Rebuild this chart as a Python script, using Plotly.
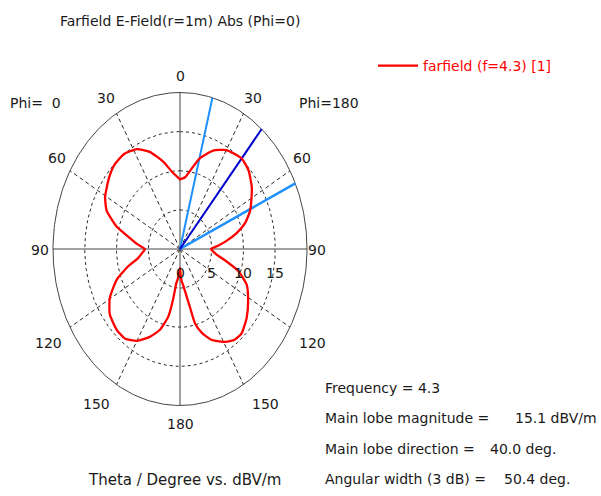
import numpy as np
import plotly.graph_objects as go

# Farfield E-field cut, |E| in dBV/m versus theta (deg)
# Phi=180 half (drawn on the right)
theta_phi180 = [0, 5, 10, 15, 22.5, 30, 40, 47, 55, 60, 66, 72, 77, 82.5, 86, 90,
                94, 97, 103, 107, 113.5, 122, 130, 138, 144, 150, 157, 162, 166,
                168, 171.5, 174, 176.5, 178.5, 180]
e_phi180 = [8.9, 9.2, 10.4, 12.0, 13.6, 14.6, 15.1, 14.75, 13.8, 13.0, 12.1, 10.8, 9.2, 7.2, 6.0, 4.9,
            5.3, 5.8, 7.8, 9.6, 11.45, 12.65, 13.7, 14.5, 14.4, 13.7, 12.6, 11.3, 9.8,
            7.7, 5.5, 4.6, 4.1, 3.2, 2.4]
# Phi=0 half (drawn on the left)
theta_phi0 = [0, 7.5, 13, 21, 28, 36, 44, 51, 60.5, 67, 74, 80, 85, 90, 95, 100, 105,
              111.5, 119.5, 127, 136, 143, 150, 157, 163, 168, 170.5, 172.5, 175, 177.5, 180]
e_phi0 = [8.9, 10.0, 11.4, 13.3, 14.45, 15.0, 14.9, 14.4, 13.55, 12.55, 10.4, 8.0, 6.7, 5.5,
          6.0, 6.7, 8.4, 10.7, 12.7, 13.85, 14.35, 14.35, 13.55, 12.2, 10.8, 8.8, 6.4, 4.4,
          3.8, 3.1, 2.4]

frequency = 4.3
main_lobe_mag = 15.1      # dBV/m
main_lobe_dir = 40.0      # deg
angular_width = 50.4      # deg (3 dB)

radial_ticks = [0, 5, 10, 15]
r_min, r_max = 0, 20
angle_ticks = [0, 30, 60, 90, 120, 150, 180]

W, H = 601, 496
# plot frame (pixels): centre and radii of the polar grid
CX, CY, RX, RY = 180, 249, 127, 156.5
sx = (r_max - r_min) / RX     # dB per pixel horizontally
sy = (r_max - r_min) / RY     # dB per pixel vertically
x_range = [(0 - CX) * sx, (W - CX) * sx]
y_range = [(CY - H) * sy, CY * sy]


def to_xy(theta_deg, value, side):
    t = np.radians(np.asarray(theta_deg, dtype=float))
    r = np.asarray(value, dtype=float) - r_min
    return side * r * np.sin(t), r * np.cos(t)


def px(x, y):
    return x / W, 1 - y / H


FONT = "'DejaVu Sans', Verdana, sans-serif"
GRID = "#2a2a2a"

fig = go.Figure()

# dashed rings
phi = np.linspace(0, 2 * np.pi, 361)
for rv in radial_ticks[1:]:
    r = rv - r_min
    fig.add_trace(go.Scatter(x=r * np.sin(phi), y=r * np.cos(phi), mode="lines",
                             line=dict(color=GRID, width=1, dash="3px,3px"),
                             hoverinfo="skip", showlegend=False))
# outer ring
R = r_max - r_min
fig.add_trace(go.Scatter(x=R * np.sin(phi), y=R * np.cos(phi), mode="lines",
                         line=dict(color="#444444", width=1),
                         hoverinfo="skip", showlegend=False))
# dashed spokes
for a in angle_ticks:
    if a in (0, 90, 180):
        continue
    for side in (-1, 1):
        xs, ys = to_xy([a, a], [r_min, r_max], side)
        fig.add_trace(go.Scatter(x=xs, y=ys, mode="lines",
                                 line=dict(color=GRID, width=1, dash="4px,3px"),
                                 hoverinfo="skip", showlegend=False))
# solid axes
fig.add_trace(go.Scatter(x=[-R, R], y=[0, 0], mode="lines",
                         line=dict(color="#444444", width=1), hoverinfo="skip", showlegend=False))
fig.add_trace(go.Scatter(x=[0, 0], y=[-R, R], mode="lines",
                         line=dict(color="#444444", width=1), hoverinfo="skip", showlegend=False))

# 3 dB beam-width limits and main lobe direction
for a, col, w in [(main_lobe_dir - angular_width / 2, "#1e90ff", 2),
                  (main_lobe_dir + angular_width / 2, "#1e90ff", 2.5),
                  (main_lobe_dir, "#0000cc", 2)]:
    xs, ys = to_xy([a, a], [r_min, r_max], 1)
    fig.add_trace(go.Scatter(x=xs, y=ys, mode="lines", line=dict(color=col, width=w),
                             hoverinfo="skip", showlegend=False))

# farfield curve: Phi=0 from theta=180 up to 0, then Phi=180 from 0 down to 180
xl, yl = to_xy(theta_phi0[::-1], e_phi0[::-1], -1)
xr, yr = to_xy(theta_phi180, e_phi180, 1)
fig.add_trace(go.Scatter(x=np.concatenate([xl, xr]), y=np.concatenate([yl, yr]),
                         mode="lines",
                         line=dict(color="#ff0000", width=2.3, shape="spline", smoothing=0.5),
                         name="farfield (f=4.3) [1]", showlegend=True))

ann = []


def label(text, x, y, size=14, color="#1a1a1a", xanchor="center"):
    xp, yp = px(x, y)
    ann.append(dict(text=text, x=xp, y=yp, xref="paper", yref="paper",
                    xanchor=xanchor, yanchor="middle", showarrow=False,
                    font=dict(family=FONT, size=size, color=color)))


label("Farfield E-Field(r=1m) Abs (Phi=0)", 58, 21, xanchor="left")
# angle labels
left_pos = {0: (180, 76), 30: (106, 98), 60: (57, 158), 90: (40, 250),
            120: (48, 343), 150: (96, 404), 180: (180, 424)}
right_pos = {30: (253, 98), 60: (302, 158), 90: (317, 250),
             120: (312, 343), 150: (265, 404)}
for a in angle_ticks:
    label(str(a), *left_pos[a])
    if a in right_pos:
        label(str(a), *right_pos[a])
label("Phi=\u00a0\u00a00", 8, 103, xanchor="left")
label("Phi=180", 297, 103, xanchor="left")
# radial labels
for rv in radial_ticks:
    label(str(rv), CX + (rv - r_min) / sx, 273)
label("Theta / Degree vs. dBV/m", 86, 480, size=15, xanchor="left")

info_x = 323
label(f"Frequency = {frequency}", info_x, 388, xanchor="left")
label("Main lobe magnitude =", info_x, 418, xanchor="left")
label(f"{main_lobe_mag:.1f} dBV/m", 513, 418, xanchor="left")
label("Main lobe direction =", info_x, 449, xanchor="left")
label(f"{main_lobe_dir:.1f} deg.", 488, 449, xanchor="left")
label("Angular width (3 dB) =", info_x, 479, xanchor="left")
label(f"{angular_width:.1f} deg.", 502, 479, xanchor="left")

fig.update_layout(
    width=W, height=H, margin=dict(l=0, r=0, t=0, b=0),
    paper_bgcolor="white", plot_bgcolor="white",
    xaxis=dict(range=x_range, visible=False, fixedrange=True),
    yaxis=dict(range=y_range, visible=False, fixedrange=True),
    annotations=ann,
    legend=dict(x=373 / W, y=1 - 50 / H, xanchor="left", yanchor="top", itemwidth=40,
                bgcolor="rgba(0,0,0,0)", font=dict(family=FONT, size=14, color="#ff0000")),
    showlegend=True,
)

fig.write_html("out.html")
